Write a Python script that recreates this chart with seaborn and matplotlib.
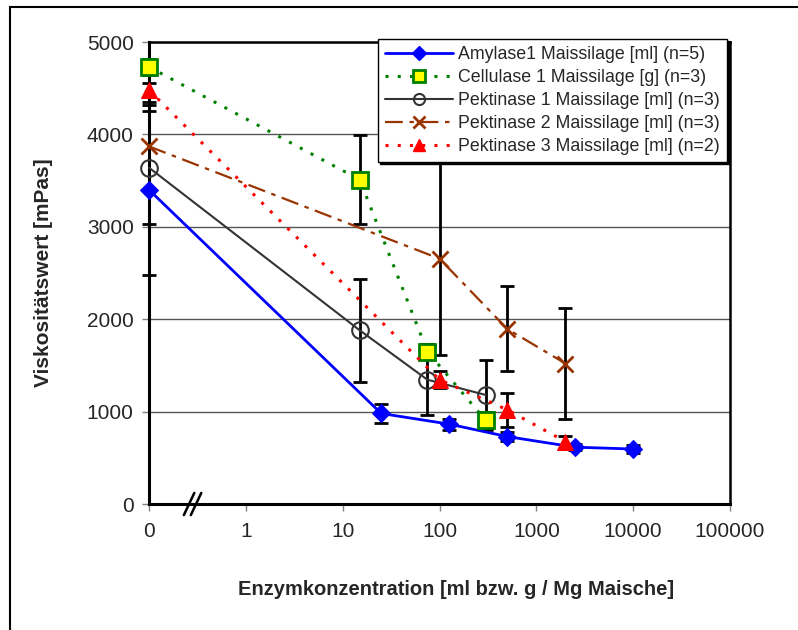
import numpy as np
import pandas as pd
import matplotlib
matplotlib.use("Agg")
import matplotlib.pyplot as plt
import seaborn as sns
from matplotlib.patches import Rectangle
from matplotlib.lines import Line2D

# ---------------- data ----------------
amy_x = [0, 25, 125, 500, 2500, 10000]
amy_y = [3400, 980, 865, 730, 615, 595]
amy_e = [920, 100, 60, 50, 30, 40]

cel_x = [0, 15, 75, 300]
cel_y = [4730, 3510, 1650, 905]
cel_e = [90, 485, 80, 90]

pk1_x = [0, 15, 75, 300]
pk1_y = [3640, 1880, 1345, 1180]
pk1_e = [615, 560, 380, 375]

pk2_x = [0, 100, 500, 2000]
pk2_y = [3870, 2655, 1895, 1520]
pk2_e = [485, 1045, 460, 600]

pk3_x = [0, 100, 500, 2000]
pk3_y = [4480, 1345, 1020, 675]
pk3_e = [75, 90, 185, 65]

labels = ["Amylase1 Maissilage [ml] (n=5)",
          "Cellulase 1 Maissilage [g] (n=3)",
          "Pektinase 1 Maissilage [ml] (n=3)",
          "Pektinase 2 Maissilage [ml] (n=3)",
          "Pektinase 3 Maissilage [ml] (n=2)"]

xtick_vals = [0, 1, 10, 100, 1000, 10000, 100000]
xtick_labels = ["0", "1", "10", "100", "1000", "10000", "100000"]
ytick_vals = [0, 1000, 2000, 3000, 4000, 5000]

ZERO_POS = 0.1  # where the value 0 is placed on the broken log axis

# ---------------- style ----------------
sns.set_theme(style="white")
plt.rcParams['font.family'] = ['Liberation Sans', 'DejaVu Sans']

fig = plt.figure(figsize=(7.98, 6.30), dpi=100)
ax = fig.add_axes([149/798, 1-504/630, 581/798, 462/630])

series = [
    (amy_x, amy_y, amy_e, dict(color="#0000FF", linestyle="-", linewidth=2.0, marker="D",
                               markersize=9, markerfacecolor="#0000FF", markeredgecolor="#0000FF")),
    (cel_x, cel_y, cel_e, dict(color="#008000", linestyle=(0, (1, 3)), linewidth=2.2, marker="s",
                               markersize=11, markerfacecolor="#FFFF00", markeredgecolor="#008000",
                               markeredgewidth=2)),
    (pk1_x, pk1_y, pk1_e, dict(color="#333333", linestyle="-", linewidth=1.5, marker="o",
                               markersize=12, markerfacecolor="none", markeredgecolor="#333333",
                               markeredgewidth=1.5)),
    (pk2_x, pk2_y, pk2_e, dict(color="#993300", linestyle=(0, (8, 3, 2, 3)), linewidth=1.6, marker="x",
                               markersize=12, markeredgecolor="#993300", markeredgewidth=2)),
    (pk3_x, pk3_y, pk3_e, dict(color="#FF0000", linestyle=(0, (1, 3)), linewidth=2.2, marker="^",
                               markersize=11, markerfacecolor="#FF0000", markeredgecolor="#FF0000")),
]
legend_ms = [7, 8, 8, 9, 9]

handles = []
for (xs, ys, es, st), lab, lms in zip(series, labels, legend_ms):
    xp = [ZERO_POS if v == 0 else v for v in xs]
    df = pd.DataFrame({"x": xp, "y": ys, "e": es})
    cont = ax.errorbar(df["x"], df["y"], yerr=df["e"], fmt="none", ecolor="black",
                       elinewidth=2, capsize=5, capthick=2, zorder=2.5)
    for art in cont.get_children():
        art.set_clip_on(False)
    sns.lineplot(data=df, x="x", y="y", ax=ax, errorbar=None, sort=True,
                 zorder=3, clip_on=False, **st)
    hst = dict(st)
    hst["markersize"] = lms
    handles.append(Line2D([], [], **hst))

ax.set_xscale("log")
ax.set_xlim(ZERO_POS, 100000)
ax.set_ylim(0, 5000)
ax.set_xticks([ZERO_POS if v == 0 else v for v in xtick_vals])
ax.set_xticklabels(xtick_labels)
ax.xaxis.set_minor_locator(matplotlib.ticker.NullLocator())
ax.set_yticks(ytick_vals)
ax.set_yticklabels([str(v) for v in ytick_vals])

ax.tick_params(axis="x", direction="out", length=5, width=1, color="#808080",
               labelsize=15, pad=8, bottom=True)
ax.tick_params(axis="y", direction="out", length=5, width=1, color="#808080",
               labelsize=15, pad=6, left=True)

ax.yaxis.grid(True, color="#555555", linewidth=1)
ax.xaxis.grid(False)
ax.set_axisbelow(True)

for s in ["left", "bottom"]:
    ax.spines[s].set_linewidth(2.2)
    ax.spines[s].set_color("black")
for s in ["top", "right"]:
    ax.spines[s].set_linewidth(1.8)
    ax.spines[s].set_color("black")

ax.set_xlabel("Enzymkonzentration [ml bzw. g / Mg Maische]", fontsize=14.5, fontweight="bold")
ax.set_ylabel("Viskositätswert [mPas]", fontsize=15, fontweight="bold")
ax.xaxis.set_label_coords(0.528, -0.164)
ax.yaxis.set_label_coords(-0.165, 0.5)

# axis break marks "//"
for dx in (0.0, 0.012):
    ax.plot([0.060 + dx, 0.078 + dx], [-0.024, 0.024], transform=ax.transAxes,
            color="black", linewidth=1.8, clip_on=False, zorder=5)

leg = ax.legend(handles, labels, loc="upper right",
                bbox_to_anchor=(727/798, 1-39/630), bbox_transform=fig.transFigure,
                fontsize=12.8, frameon=True, fancybox=False, framealpha=1,
                edgecolor="black", handlelength=3.8, handletextpad=0.3,
                labelspacing=0.34, borderpad=0.4, borderaxespad=0,
                shadow={"color": "black", "alpha": 1, "ox": 1.5, "oy": -1.5})
leg.get_frame().set_linewidth(1.0)
leg.set_zorder(10)

# outer chart border (left/top visible)
fig.patches.append(Rectangle((10/798, -0.1), 1.2, 1.1 - 7/630, transform=fig.transFigure,
                             fill=False, edgecolor="black", linewidth=1.5))

fig.savefig("out.png", dpi=100)
